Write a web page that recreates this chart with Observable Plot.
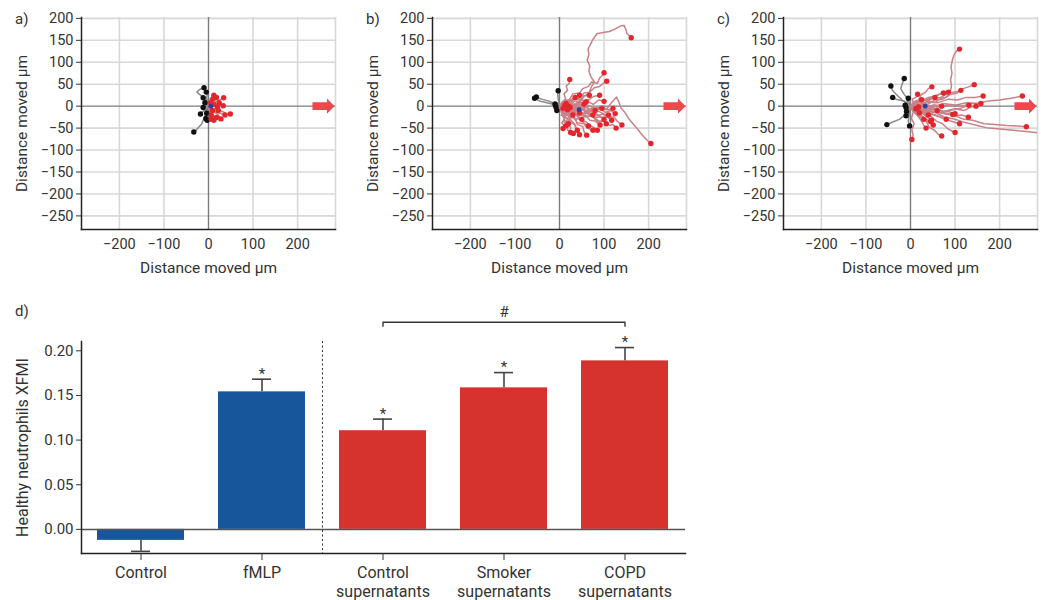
<!DOCTYPE html>
<html><head><meta charset="utf-8">
<script src="https://cdn.jsdelivr.net/npm/d3@7"></script>
<script src="https://cdn.jsdelivr.net/npm/@observablehq/plot@0.6"></script>
<style>
body{margin:0;width:1041px;height:600px;overflow:hidden;background:#fff;font-family:Roboto,sans-serif;position:relative;color:#333}
.p{position:absolute}
.lbl{position:absolute;font-size:15px;color:#333;line-height:1}
</style></head><body>
<div id="pa" class="p" style="left:0;top:0"></div>
<div id="pb" class="p" style="left:351px;top:0"></div>
<div id="pc" class="p" style="left:702px;top:0"></div>
<div id="pd" class="p" style="left:0;top:290px"></div>
<div class="lbl" style="left:15px;top:12px">a)</div>
<div class="lbl" style="left:366px;top:12px">b)</div>
<div class="lbl" style="left:717px;top:12px">c)</div>
<div class="lbl" style="left:15px;top:304px">d)</div>
<script>
// ---------- scatter panels (cell tracks, µm) ----------
const xTicks = [-200, -100, 0, 100, 200];
const yTicks = [-250, -200, -150, -100, -50, 0, 50, 100, 150, 200];
const xDomain = [-285, 285];
const yDomain = [-281, 202];
const axisTitle = "Distance moved µm";

const aRed = [
 [[0,0],[5,8],[12,5],[18,12],[26,15],[34,19]],
 [[0,0],[8,-4],[15,-8],[25,-10],[35,-14],[42,-18],[49,-18]],
 [[0,0],[6,-8],[14,-14],[22,-20],[28,-29]],
 [[0,0],[4,-10],[8,-18],[12,-25],[12,-32]],
 [[0,0],[6,3],[12,0],[20,-2]],
 [[0,0],[10,2],[20,4],[28,2],[33,1]],
 [[0,0],[8,-10],[18,-14],[26,-16],[37,-20]],
 [[0,0],[4,6],[10,12],[14,18],[18,20]],
 [[0,0],[3,-5],[10,-8],[16,-6],[22,-10]],
 [[0,0],[5,10],[3,16],[8,22],[12,25]],
 [[0,0],[6,-15],[4,-24],[6,-30]],
 [[0,0],[4,2],[8,-2],[12,4]],
 [[0,0],[2,-6],[6,-4],[9,-10]],
 [[0,0],[10,8],[16,4],[24,8]],
 [[0,0],[3,12],[8,10],[10,16]],
 [[0,0],[6,-20],[12,-22],[18,-26]],
 [[0,0],[4,-3],[7,2],[5,8]],
 [[0,0],[3,-12],[8,-14],[6,-20]]
];
const aBlack = [
 [[0,0],[-3,8],[-5,15],[-10,20],[-18,25],[-26,32],[-20,38],[-10,42]],
 [[0,0],[-2,10],[-4,18],[-3,26],[-5,32]],
 [[0,0],[-2,-10],[-5,-22],[-12,-32],[-15,-40],[-22,-48],[-28,-55],[-33,-59]],
 [[0,0],[-4,-6],[-10,-10],[-15,-15],[-18,-18]],
 [[0,0],[-5,6],[-8,12],[-12,19]],
 [[0,0],[-6,-2],[-10,3],[-12,-3]],
 [[0,0],[-2,-14],[-8,-22],[-6,-28]],
 [[0,0],[-3,-4],[-6,-10],[-4,-16]],
 [[0,0],[-4,4],[-7,2],[-8,8]],
 [[0,0],[-2,-18],[-6,-24],[-3,-32]]
];
const aCentre = [{x: 5, y: 0}];

const bRed = [
 [[0,0],[10,6],[22,2],[35,12],[45,8],[55,22],[66,30],[72,45],[78,55],[70,68],[66,80],[68,92],[62,105],[66,118],[64,130],[70,142],[75,152],[84,165],[98,168],[112,170],[125,176],[138,183],[145,184],[150,172],[151,166],[161,156]],
 [[0,0],[15,-8],[30,-3],[45,-12],[60,-2],[75,-10],[90,-4],[105,-8],[112,2],[120,12],[128,21],[133,10],[138,-4],[145,-12],[155,-28],[165,-40],[175,-52],[185,-65],[195,-76],[205,-85]],
 [[0,0],[12,8],[20,4],[32,15],[45,18],[55,30],[68,32],[78,42],[90,45],[98,52],[106,57]],
 [[0,0],[10,12],[22,15],[30,28],[45,30],[52,40],[65,45],[72,55],[85,52],[90,64],[96,70],[100,76]],
 [[0,0],[6,10],[14,16],[10,28],[18,36],[15,46],[22,52],[23,61]],
 [[0,0],[12,-6],[22,2],[35,-8],[48,-4],[60,-15],[72,-10],[85,-22],[98,-18],[110,-26],[122,-24],[130,-35],[140,-43]],
 [[0,0],[14,6],[26,-2],[40,6],[52,0],[64,10],[76,4],[88,14],[100,11]],
 [[0,0],[10,10],[22,6],[32,16],[46,14],[55,24],[67,25]],
 [[0,0],[8,-10],[4,-20],[12,-28],[5,-38],[10,-44],[8,-51]],
 [[0,0],[10,-8],[6,-20],[18,-28],[14,-40],[25,-48],[24,-56],[31,-62]],
 [[0,0],[14,-10],[22,-24],[36,-28],[40,-42],[52,-46],[55,-58],[61,-66]],
 [[0,0],[8,-16],[20,-22],[24,-36],[36,-44],[38,-56],[45,-65]],
 [[0,0],[16,-12],[30,-8],[42,-22],[58,-20],[68,-32],[80,-34],[91,-43]],
 [[0,0],[20,-2],[35,-12],[52,-8],[66,-20],[80,-16],[95,-26],[106,-24],[117,-32]],
 [[0,0],[22,4],[40,-6],[58,-2],[74,-12],[90,-6],[104,-14],[115,-10],[125,-17]],
 [[0,0],[10,-6],[18,-2],[28,-14],[38,-16],[44,-26],[50,-30]],
 [[0,0],[14,-4],[26,-12],[40,-6],[52,-16],[64,-14],[75,-20]],
 [[0,0],[8,6],[16,2],[24,14],[35,20]],
 [[0,0],[10,2],[18,12],[30,14],[38,22],[45,25]],
 [[0,0],[12,-4],[25,4],[38,0],[48,8],[60,10]],
 [[0,0],[16,2],[30,-6],[46,-2],[60,-12],[70,-6],[80,-10]],
 [[0,0],[6,-8],[14,-12],[12,-24],[20,-30],[20,-40]],
 [[0,0],[18,-10],[34,-6],[50,-18],[66,-16],[80,-26],[92,-24],[100,-30]],
 [[0,0],[12,-14],[26,-16],[34,-28],[48,-30],[56,-40],[65,-45]],
 [[0,0],[20,6],[40,-4],[60,4],[80,-6],[95,0],[108,-8],[120,-5]],
 [[0,0],[18,8],[34,4],[48,14],[62,12],[76,22],[90,25]],
 [[0,0],[8,4],[14,-2],[20,0]],
 [[0,0],[6,-6],[12,-2],[18,-8]],
 [[0,0],[20,-14],[38,-10],[55,-24],[72,-22],[86,-36],[100,-34],[112,-44],[120,-42],[127,-50]],
 [[0,0],[4,-12],[12,-18],[10,-30],[16,-38],[14,-45]],
 [[0,0],[5,4],[10,2],[15,6]],
 [[0,0],[6,-3],[12,2]],
 [[0,0],[12,-10],[22,-6],[35,-18],[45,-15]],
 [[0,0],[18,-16],[32,-14],[45,-30],[60,-36],[70,-45],[80,-50],[85,-55]],
 [[0,0],[10,-12],[22,-18],[26,-32],[34,-40],[36,-50],[40,-55]],
 [[0,0],[14,-20],[30,-24],[40,-38],[55,-40],[62,-50],[75,-55]],
 [[0,0],[25,-8],[45,-2],[65,-14],[85,-10],[100,-18],[110,-20]],
 [[0,0],[12,4],[24,-2],[36,6],[46,2],[55,5]],
 [[0,0],[8,-8],[16,-6],[22,-16],[30,-20]],
 [[0,0],[20,-8],[40,-2],[60,-10],[78,-4],[95,-5]],
 [[0,0],[4,-14],[12,-22],[10,-36],[20,-44],[18,-54],[25,-60]],
 [[0,0],[22,-12],[40,-10],[58,-24],[74,-22],[88,-34],[98,-34],[105,-40]],
 [[0,0],[6,3],[10,-1],[8,-5]],
 [[0,0],[10,-2],[16,3],[24,-3]]
];
const bBlack = [
 [[0,0],[-10,6],[-25,12],[-40,16],[-52,21]],
 [[0,0],[-12,4],[-28,8],[-45,12],[-56,18]],
 [[0,0],[-2,12],[-4,24],[-3,35]],
 [[0,0],[-5,3],[-8,-2]],
 [[0,0],[-3,-6],[-6,-10]],
 [[0,0],[-6,8],[-10,5]],
 [[0,0],[-4,-2],[-9,2]]
];
const bCentre = [{x: 44, y: -8}];

const cRed = [
 [[0,0],[12,6],[25,2],[40,10],[55,8],[68,18],[80,20],[88,30],[92,45],[90,60],[93,75],[91,90],[94,105],[98,118],[104,126],[110,130]],
 [[0,0],[20,8],[38,4],[55,14],[72,16],[88,26],[105,30],[118,40],[130,44],[143,49]],
 [[0,0],[25,4],[50,-2],[75,6],[100,2],[125,8],[150,6],[175,12],[200,14],[225,18],[251,23]],
 [[0,0],[20,-6],[45,-4],[70,-16],[95,-20],[120,-30],[140,-32],[165,-40],[190,-42],[215,-44],[240,-45],[260,-47]],
 [[0,0],[25,-10],[50,-12],[75,-24],[100,-30],[125,-38],[150,-44],[175,-50],[200,-52],[230,-55],[260,-58],[295,-62]],
 [[0,0],[20,4],[40,10],[62,8],[85,16],[105,14],[125,20],[145,20],[163,23]],
 [[0,0],[15,10],[32,8],[50,18],[68,20],[85,30],[100,32],[113,36]],
 [[0,0],[12,8],[25,12],[40,20],[55,22],[70,30],[85,32]],
 [[0,0],[8,10],[18,14],[24,26],[34,32],[40,40],[48,44]],
 [[0,0],[6,8],[4,16],[12,20],[16,27]],
 [[0,0],[25,-8],[50,-4],[75,-12],[100,-6],[120,-10],[135,-2],[147,0]],
 [[0,0],[30,4],[60,-2],[90,4],[115,0],[138,6],[158,6]],
 [[0,0],[18,-4],[35,-10],[52,-6],[68,-14],[84,-12],[100,-17]],
 [[0,0],[15,-8],[30,-18],[45,-22],[58,-34],[72,-40],[84,-52],[100,-60]],
 [[0,0],[12,-12],[20,-26],[35,-34],[42,-48],[55,-56],[62,-64],[70,-68]],
 [[0,0],[6,-14],[2,-28],[8,-40],[3,-54],[6,-66],[3,-76]],
 [[0,0],[10,-10],[18,-22],[30,-26],[40,-36],[51,-43]],
 [[0,0],[8,-8],[14,-18],[22,-22],[30,-30]],
 [[0,0],[10,-4],[20,-12],[30,-14],[40,-20]],
 [[0,0],[8,4],[14,10],[25,15]],
 [[0,0],[15,2],[30,-6],[45,-4],[60,-10]],
 [[0,0],[18,4],[35,-2],[52,3],[70,0]],
 [[0,0],[12,6],[25,12],[40,14],[55,20]],
 [[0,0],[8,-6],[14,-10],[20,-15]],
 [[0,0],[10,-12],[22,-18],[32,-28],[45,-35]],
 [[0,0],[20,-8],[40,-14],[60,-22],[80,-30]],
 [[0,0],[25,-6],[50,-4],[75,-12],[95,-8],[115,-4],[131,2]],
 [[0,0],[20,-4],[40,-10],[60,-12],[78,-16],[95,-19]],
 [[0,0],[12,-8],[26,-16],[36,-24],[47,-32]],
 [[0,0],[10,3],[18,-2]],
 [[0,0],[6,-4],[12,-6]],
 [[0,0],[18,10],[35,14],[50,22],[62,26],[74,30]],
 [[0,0],[8,-14],[18,-24],[26,-36],[30,-44],[35,-50]],
 [[0,0],[25,-6],[50,-14],[75,-16],[100,-22],[115,-20],[130,-25]],
 [[0,0],[20,-10],[45,-18],[70,-26],[90,-34],[110,-40]]
];
const cBlack = [
 [[0,0],[-10,8],[-20,15],[-30,25],[-40,35],[-44,46]],
 [[0,0],[-5,15],[-15,28],[-22,40],[-18,52],[-14,63]],
 [[0,0],[-5,-12],[-15,-22],[-25,-30],[-40,-36],[-53,-42]],
 [[0,0],[-15,12],[-30,15],[-40,20]],
 [[0,0],[-3,-20],[-5,-35],[-2,-45]],
 [[0,0],[-6,5],[-10,-3]],
 [[0,0],[-4,-8],[-9,-12]],
 [[0,0],[-8,12],[-5,18]],
 [[0,0],[-5,-18],[-10,-22]],
 [[0,0],[-8,-4],[-12,2]]
];
const cCentre = [{x: 33, y: 0}];

const arrowPos = [{x: 258, y: 0}];   // chemoattractant direction marker
const gridX = [-200, -100, 100, 200, 285];
const gridY = [-250, -200, -150, -100, -50, 50, 100, 150, 200];

const arrowSymbol = {
  draw(ctx) {
    ctx.moveTo(-11, -3.8); ctx.lineTo(3.5, -3.8); ctx.lineTo(3.5, -7.7);
    ctx.lineTo(11, 0); ctx.lineTo(3.5, 7.7); ctx.lineTo(3.5, 3.8);
    ctx.lineTo(-11, 3.8); ctx.closePath();
  }
};

function rowsOf(tracks, g) {
  return tracks.flatMap((t, i) => t.map(([x, y]) => ({id: g + i, x, y})));
}
function endsOf(tracks) {
  return tracks.map(t => ({x: t[t.length - 1][0], y: t[t.length - 1][1]}));
}

function scatter(red, black, centre) {
  return Plot.plot({
    width: 339, height: 280, marginLeft: 81, marginRight: 4, marginTop: 17, marginBottom: 51,
    style: {fontFamily: "Roboto, sans-serif", fontSize: "14.5px", color: "#333", overflow: "visible", background: "transparent"},
    x: {domain: xDomain},
    y: {domain: yDomain},
    marks: [
      Plot.ruleX(gridX, {stroke: "#d8d8d8", strokeWidth: 1.6}),
      Plot.ruleY(gridY, {stroke: "#d8d8d8", strokeWidth: 1.6}),
      Plot.ruleX([0], {stroke: "#7c7c7c", strokeWidth: 1.4}),
      Plot.ruleY([0], {stroke: "#7c7c7c", strokeWidth: 1.4}),
      Plot.line(rowsOf(black, "k"), {x: "x", y: "y", z: "id", stroke: "#8a8a8a", strokeWidth: 1.5, clip: true}),
      Plot.line(rowsOf(red, "r"), {x: "x", y: "y", z: "id", stroke: "#c8828a", strokeWidth: 1.5, clip: true}),
      Plot.dot(endsOf(black), {x: "x", y: "y", r: 2.7, fill: "#111", clip: true}),
      Plot.dot(endsOf(red), {x: "x", y: "y", r: 2.7, fill: "#e3262c", clip: true}),
      Plot.dot(centre, {x: "x", y: "y", r: 2.4, fill: "#2b3f9e"}),
      Plot.dot(arrowPos, {x: "x", y: "y", symbol: arrowSymbol, r: 5, fill: "#ee474c"}),
      Plot.frame({anchor: "left", stroke: "#222", strokeWidth: 1.5}),
      Plot.frame({anchor: "bottom", stroke: "#222", strokeWidth: 1.5}),
      Plot.axisY({ticks: yTicks, tickSize: 5, tickPadding: 3, label: null}),
      Plot.axisX({ticks: xTicks, tickSize: 0, tickPadding: 9, label: null}),
      Plot.text([axisTitle], {text: d => d, frameAnchor: "left", textAnchor: "middle", rotate: -90, dx: -59, fontSize: 15.5, lineAnchor: "middle"}),
      Plot.text([axisTitle], {text: d => d, frameAnchor: "bottom", textAnchor: "middle", dy: 39, fontSize: 15.5, lineAnchor: "middle"})
    ]
  });
}
document.getElementById("pa").append(scatter(aRed, aBlack, aCentre));
document.getElementById("pb").append(scatter(bRed, bBlack, bCentre));
document.getElementById("pc").append(scatter(cRed, cBlack, cCentre));

// ---------- bar panel ----------
const categories = ["Control", "fMLP", "Control supernatants", "Smoker supernatants", "COPD supernatants"];
const xfmi = [-0.0123, 0.154, 0.1105, 0.1585, 0.1887];
const sem = [0.0123, 0.0142, 0.013, 0.0171, 0.0149];
const colours = ["#17569b", "#17569b", "#d6332f", "#d6332f", "#d6332f"];
const starred = [false, true, true, true, true];
const yTicksD = [0, 0.05, 0.10, 0.15, 0.20];
const yTitleD = "Healthy neutrophils XFMI";
const bracket = [
  {cat: "Control supernatants", y: 0.2276},
  {cat: "Control supernatants", y: 0.232},
  {cat: "COPD supernatants", y: 0.232},
  {cat: "COPD supernatants", y: 0.2276}
];
const hashLabel = [{cat: "Smoker supernatants", y: 0.2435, t: "#"}];

const bars = categories.map((cat, i) => ({
  cat, v: xfmi[i], e: sem[i], c: colours[i], star: starred[i],
  end: xfmi[i] < 0 ? xfmi[i] - sem[i] : xfmi[i] + sem[i]
}));

const bar = Plot.plot({
  width: 700, height: 310, marginLeft: 81, marginRight: 15, marginTop: 51, marginBottom: 47,
  style: {fontFamily: "Roboto, sans-serif", fontSize: "15px", color: "#333", overflow: "visible", background: "transparent"},
  x: {domain: categories, paddingInner: 0.28, paddingOuter: 0.135},
  y: {domain: [-0.027, 0.2104]},
  marks: [
    Plot.ruleX(bars, {x: "cat", y1: "v", y2: "end", stroke: "#444", strokeWidth: 1.6}),
    Plot.tickY(bars, {x: "cat", y: "end", insetLeft: 34, insetRight: 34, stroke: "#444", strokeWidth: 1.6}),
    Plot.barY(bars, {x: "cat", y: "v", fill: "c"}),
    Plot.ruleY([0], {stroke: "#555", strokeWidth: 1.5}),
    Plot.ruleX([categories[2]], {dx: -60.5, stroke: "#333", strokeWidth: 1, strokeDasharray: "2,2.5"}),
    Plot.text(bars.filter(d => d.star), {x: "cat", y: "end", text: () => "*", dy: -5, lineAnchor: "middle", fontSize: 15}),
    Plot.line(bracket, {x: "cat", y: "y", stroke: "#333", strokeWidth: 1.4}),
    Plot.text(hashLabel, {x: "cat", y: "y", text: "t", fontSize: 15}),
    Plot.frame({anchor: "left", stroke: "#222", strokeWidth: 1.5}),
    Plot.frame({anchor: "bottom", stroke: "#222", strokeWidth: 1.5}),
    Plot.axisY({ticks: yTicksD, tickFormat: d3.format(".2f"), tickSize: 5, tickPadding: 3, label: null}),
    Plot.axisX({tickSize: 7, tickPadding: 4, fontSize: 16, lineHeight: 1.2, tickFormat: d => d.replace(" ", "\n"), label: null}),
    Plot.text([yTitleD], {text: d => d, frameAnchor: "left", textAnchor: "middle", rotate: -90, dx: -59, fontSize: 16, lineAnchor: "middle"})
  ]
});
document.getElementById("pd").append(bar);
</script>
</body></html>
